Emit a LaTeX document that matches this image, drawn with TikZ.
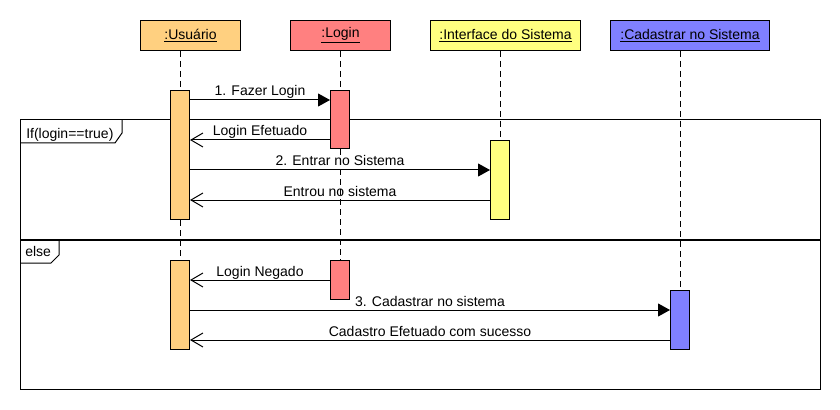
\documentclass[tikz,border=0pt]{standalone}
\usepackage{fontspec}
\setmainfont{Liberation Sans}
\usetikzlibrary{arrows.meta}
\definecolor{cusr}{RGB}{255,208,128}
\definecolor{clog}{RGB}{255,128,128}
\definecolor{cint}{RGB}{255,255,128}
\definecolor{ccad}{RGB}{128,128,255}
\begin{document}
\begin{tikzpicture}[x=0.75pt,y=-0.75pt, font=\fontsize{10.5pt}{12pt}\selectfont,
 head/.style={draw=black, line width=0.75pt, minimum height=22.5pt, inner sep=0pt, anchor=north west},
 act/.style={draw=black, line width=0.75pt, minimum width=14.25pt, inner sep=0pt, anchor=north},
 life/.style={dash pattern=on 4.5pt off 3pt, line width=0.75pt},
 sync/.style={line width=0.75pt, -{Triangle[length=9pt,width=9.75pt]}},
 reply/.style={line width=0.75pt, -{Straight Barb[length=9pt,width=10.5pt]}},
 lbl/.style={anchor=base, inner sep=0pt},
 frm/.style={line width=0.75pt},
]
\useasboundingbox (0,0) rectangle (840,410);
\fill[white] (0,0) rectangle (840,410);

% combined fragment frame
\draw[frm] (20,120) rectangle (820,389);
\draw[line width=1.5pt] (20,240) -- (820,240);
\draw[frm] (20,143) -- (115,143) -- (122,133) -- (122,120);
\node[anchor=base west, inner sep=0pt] (fif) at (26,138) {If(login==true)};
\draw[frm] (20,263) -- (51,263) -- (59,255) -- (59,240);
\node[anchor=base west, inner sep=0pt] (felse) at (25,257) {else};

% heads
\node[head, fill=cusr, minimum width=75pt] (hu) at (140,20) {\underline{:Usuário}};
\node[head, fill=clog, minimum width=75pt] (hl) at (290,20) {\underline{:Login}};
\node[head, fill=cint, minimum width=112.5pt] (hi) at (430,20) {\underline{:Interface do Sistema}};
\node[head, fill=ccad, minimum width=119.25pt] (hc) at (610,20) {\underline{:Cadastrar no Sistema}};

% activation bars (placed first as coordinates for lifelines)
\path
 node[act, minimum height=96.75pt] (u1) at (180,90) {}
 node[act, minimum height=43.5pt] (l1) at (340,90) {}
 node[act, minimum height=59.25pt] (i1) at (500,140) {}
 node[act, minimum height=66.75pt] (u2) at (180,260) {}
 node[act, minimum height=29.25pt] (l2) at (340,260) {}
 node[act, minimum height=44.25pt] (c1) at (680,290) {};

% lifelines
\draw[life] (hu.south -| u1.north) -- (u1.north);
\draw[life] (u1.south) -- (u2.north);
\draw[life] (hl.south -| l1.north) -- (l1.north);
\draw[life] (l1.south) -- (l2.north);
\draw[life] (hi.south -| i1.north) -- (i1.north);
\draw[life] (hc.south -| c1.north) -- (c1.north);

% activation bars drawn
\node[act, fill=cusr, minimum height=96.75pt] at (u1.north) {};
\node[act, fill=clog, minimum height=43.5pt] at (l1.north) {};
\node[act, fill=cint, minimum height=59.25pt] at (i1.north) {};
\node[act, fill=cusr, minimum height=66.75pt] at (u2.north) {};
\node[act, fill=clog, minimum height=29.25pt] at (l2.north) {};
\node[act, fill=ccad, minimum height=44.25pt] at (c1.north) {};

% message levels
\coordinate (y1) at (0,100);
\coordinate (y2) at (0,140);
\coordinate (y3) at (0,170);
\coordinate (y4) at (0,200);
\coordinate (y5) at (0,280);
\coordinate (y6) at (0,310);
\coordinate (y7) at (0,340);

\draw[sync] (u1.east |- y1) -- (l1.west |- y1);
\draw[reply] (l1.west |- y2) -- (u1.east |- y2);
\draw[sync] (u1.east |- y3) -- (i1.west |- y3);
\draw[reply] (i1.west |- y4) -- (u1.east |- y4);
\draw[reply] (l2.west |- y5) -- (u2.east |- y5);
\draw[sync] (u2.east |- y6) -- (c1.west |- y6);
\draw[reply] (c1.west |- y7) -- (u2.east |- y7);

% message labels
\node[lbl] (m1) at (260,96) {1. Fazer Login};
\node[lbl] (m2) at (260,136) {Login Efetuado};
\node[lbl] (m3) at (340,166) {2. Entrar no Sistema};
\node[lbl] (m4) at (340,196) {Entrou no sistema};
\node[lbl] (m5) at (260,276) {Login Negado};
\node[lbl] (m6) at (430,306) {3. Cadastrar no sistema};
\node[lbl] (m7) at (430,336) {Cadastro Efetuado com sucesso};
\end{tikzpicture}
\end{document}
